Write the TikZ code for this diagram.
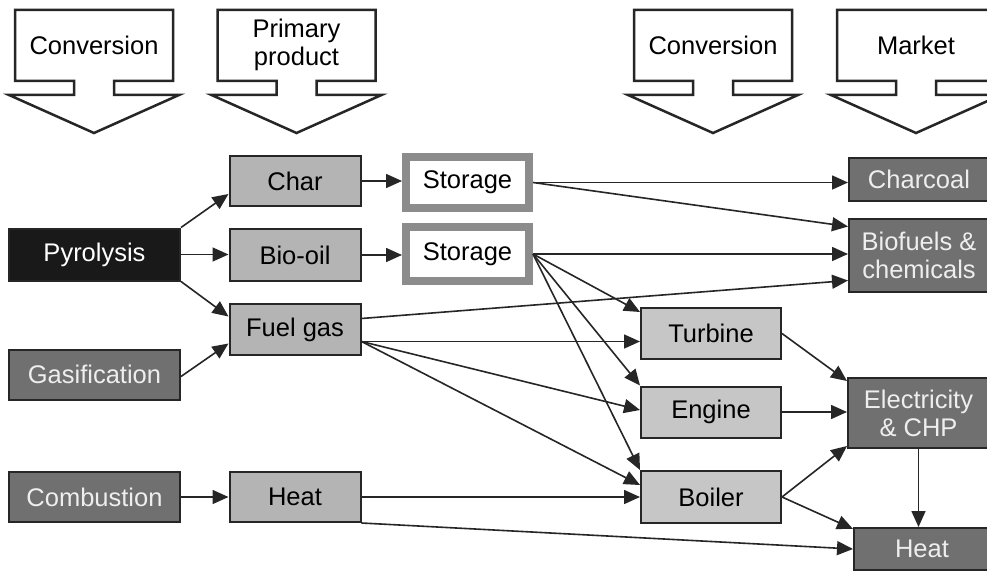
\documentclass[tikz,border=0pt]{standalone}
\usepackage{fontspec}
\setmainfont{Liberation Sans}
\usetikzlibrary{arrows.meta}
\definecolor{darkbox}{HTML}{707070}
\definecolor{primfill}{HTML}{B4B4B4}
\definecolor{convfill}{HTML}{C6C6C6}
\definecolor{storedge}{HTML}{8C8C8C}
\definecolor{edgecol}{HTML}{262626}
\definecolor{lighttext}{HTML}{EEEEEE}
\begin{document}
\begin{tikzpicture}[x=1pt,y=-1pt,
  lbl/.style={font=\fontsize{25.5}{28}\selectfont, align=center},
  box/.style={lbl, draw=edgecol, line width=2pt, inner sep=0pt},
  darkbox/.style={box, fill=darkbox, text=lighttext},
  blackbox/.style={box, fill=black!90, text=white},
  primbox/.style={box, fill=primfill},
  convbox/.style={box, fill=convfill},
  storebox/.style={lbl, draw=storedge, line width=8pt, fill=white, inner sep=0pt},
  arr/.style={draw=edgecol, line width=1.6pt, -{Triangle[length=16pt,width=14pt]}},
  pics/dnarrow/.style={code={
    \draw[line width=2.5pt, draw=black!85, fill=white, line join=miter]
      (-79,10) -- (79,10) -- (79,81) -- (20,81) -- (20,95) -- (85,95) -- (0,133)
      -- (-85,95) -- (-20,95) -- (-20,81) -- (-79,81) -- cycle;
    \node[lbl] at (0,45) {#1};
  }}
]
\useasboundingbox (0,0) rectangle (987,572);
\clip (0,0) rectangle (987,572);
\fill[white] (0,0) rectangle (987,572);

% header arrows
\pic at (94,0) {dnarrow={Conversion}};
\pic at (296.5,0) {dnarrow={Primary\\product}};
\pic at (713,0) {dnarrow={Conversion}};
\pic at (916,0) {dnarrow={Market}};

% conversion column
\node[blackbox, minimum width=171pt, minimum height=52pt] (pyro) at (94.5,254.5) {Pyrolysis};
\node[darkbox, minimum width=171pt, minimum height=50pt] (gasif) at (94.5,374.5) {Gasification};
\node[darkbox, minimum width=171pt, minimum height=50pt] (combu) at (94.5,497) {Combustion};

% primary products
\node[primbox, minimum width=131pt, minimum height=50pt] (char) at (295,181) {Char};
\node[primbox, minimum width=131pt, minimum height=52pt] (biooil) at (295,255) {Bio-oil};
\node[primbox, minimum width=131pt, minimum height=51pt] (fuel) at (295,329.5) {Fuel gas};
\node[primbox, minimum width=131pt, minimum height=50pt] (heatp) at (295,497) {Heat};

% storage
\node[storebox, minimum width=123pt, minimum height=51pt] (stor1) at (467.5,182.5) {Storage};
\node[storebox, minimum width=123pt, minimum height=54pt] (stor2) at (467.5,254) {Storage};

% conversion devices
\node[convbox, minimum width=140pt, minimum height=51pt] (turb) at (711,333.5) {Turbine};
\node[convbox, minimum width=140pt, minimum height=51pt] (engine) at (711,412) {Engine};
\node[convbox, minimum width=140pt, minimum height=52pt] (boiler) at (711,497) {Boiler};

% market
\node[darkbox, minimum width=140pt, minimum height=43pt] (charcoal) at (919,179.5) {Charcoal};
\node[darkbox, minimum width=140pt, minimum height=73pt] (biofuel) at (919,255.5) {Biofuels \&\\chemicals};
\node[darkbox, minimum width=141pt, minimum height=70pt] (elec) at (918.5,413) {Electricity\\\& CHP};
\node[darkbox, minimum width=136pt, minimum height=42pt] (heatm) at (922,549) {Heat};

% connectors
\draw[arr] (pyro.north east) -- ([yshift=-13pt]char.west);
\draw[arr] (pyro.east) -- (pyro.east -| biooil.west);
\draw[arr] (pyro.south east) -- ([yshift=13pt]fuel.west);
\draw[arr] ([yshift=-2pt]gasif.east) -- ([yshift=-14pt]fuel.west);
\draw[arr] (combu.east) -- (combu.east -| heatp.west);

\draw[arr] (char.east) -- (char.east -| stor1.west);
\draw[arr] (biooil.east) -- (biooil.east -| stor2.west);

\draw[arr] (stor1.east) -- (stor1.east -| charcoal.west);
\draw[arr] (stor1.east) -- ([yshift=29pt]biofuel.west);
\draw[arr] (stor2.east) -- (stor2.east -| biofuel.west);
\draw[arr] (stor2.east) -- ([yshift=-5pt]turb.north west);
\draw[arr] (stor2.east) -- (engine.north west);
\draw[arr] (stor2.east) -- (boiler.north west);

\draw[arr] ([yshift=11pt]fuel.east) -- ([yshift=-25pt]biofuel.west);
\draw[arr] ([yshift=-12pt]fuel.east) -- ([yshift=-12pt]fuel.east -| turb.west);
\draw[arr] ([yshift=-12pt]fuel.east) -- ([yshift=2pt]engine.west);
\draw[arr] ([yshift=-12pt]fuel.east) -- ([yshift=12pt]boiler.west);

\draw[arr] (heatp.east) -- (heatp.east -| boiler.west);
\draw[arr] (heatp.south east) -- (heatm.west);

\draw[arr] (turb.east) -- ([yshift=-4pt]elec.north west);
\draw[arr] (engine.east) -- (engine.east -| elec.west);
\draw[arr] (boiler.east) -- ([yshift=3pt]elec.south west);
\draw[arr] (boiler.east) -- ([yshift=-2pt]heatm.north west);
\draw[arr] (elec.south) -- (elec.south |- heatm.north);
\end{tikzpicture}
\end{document}
